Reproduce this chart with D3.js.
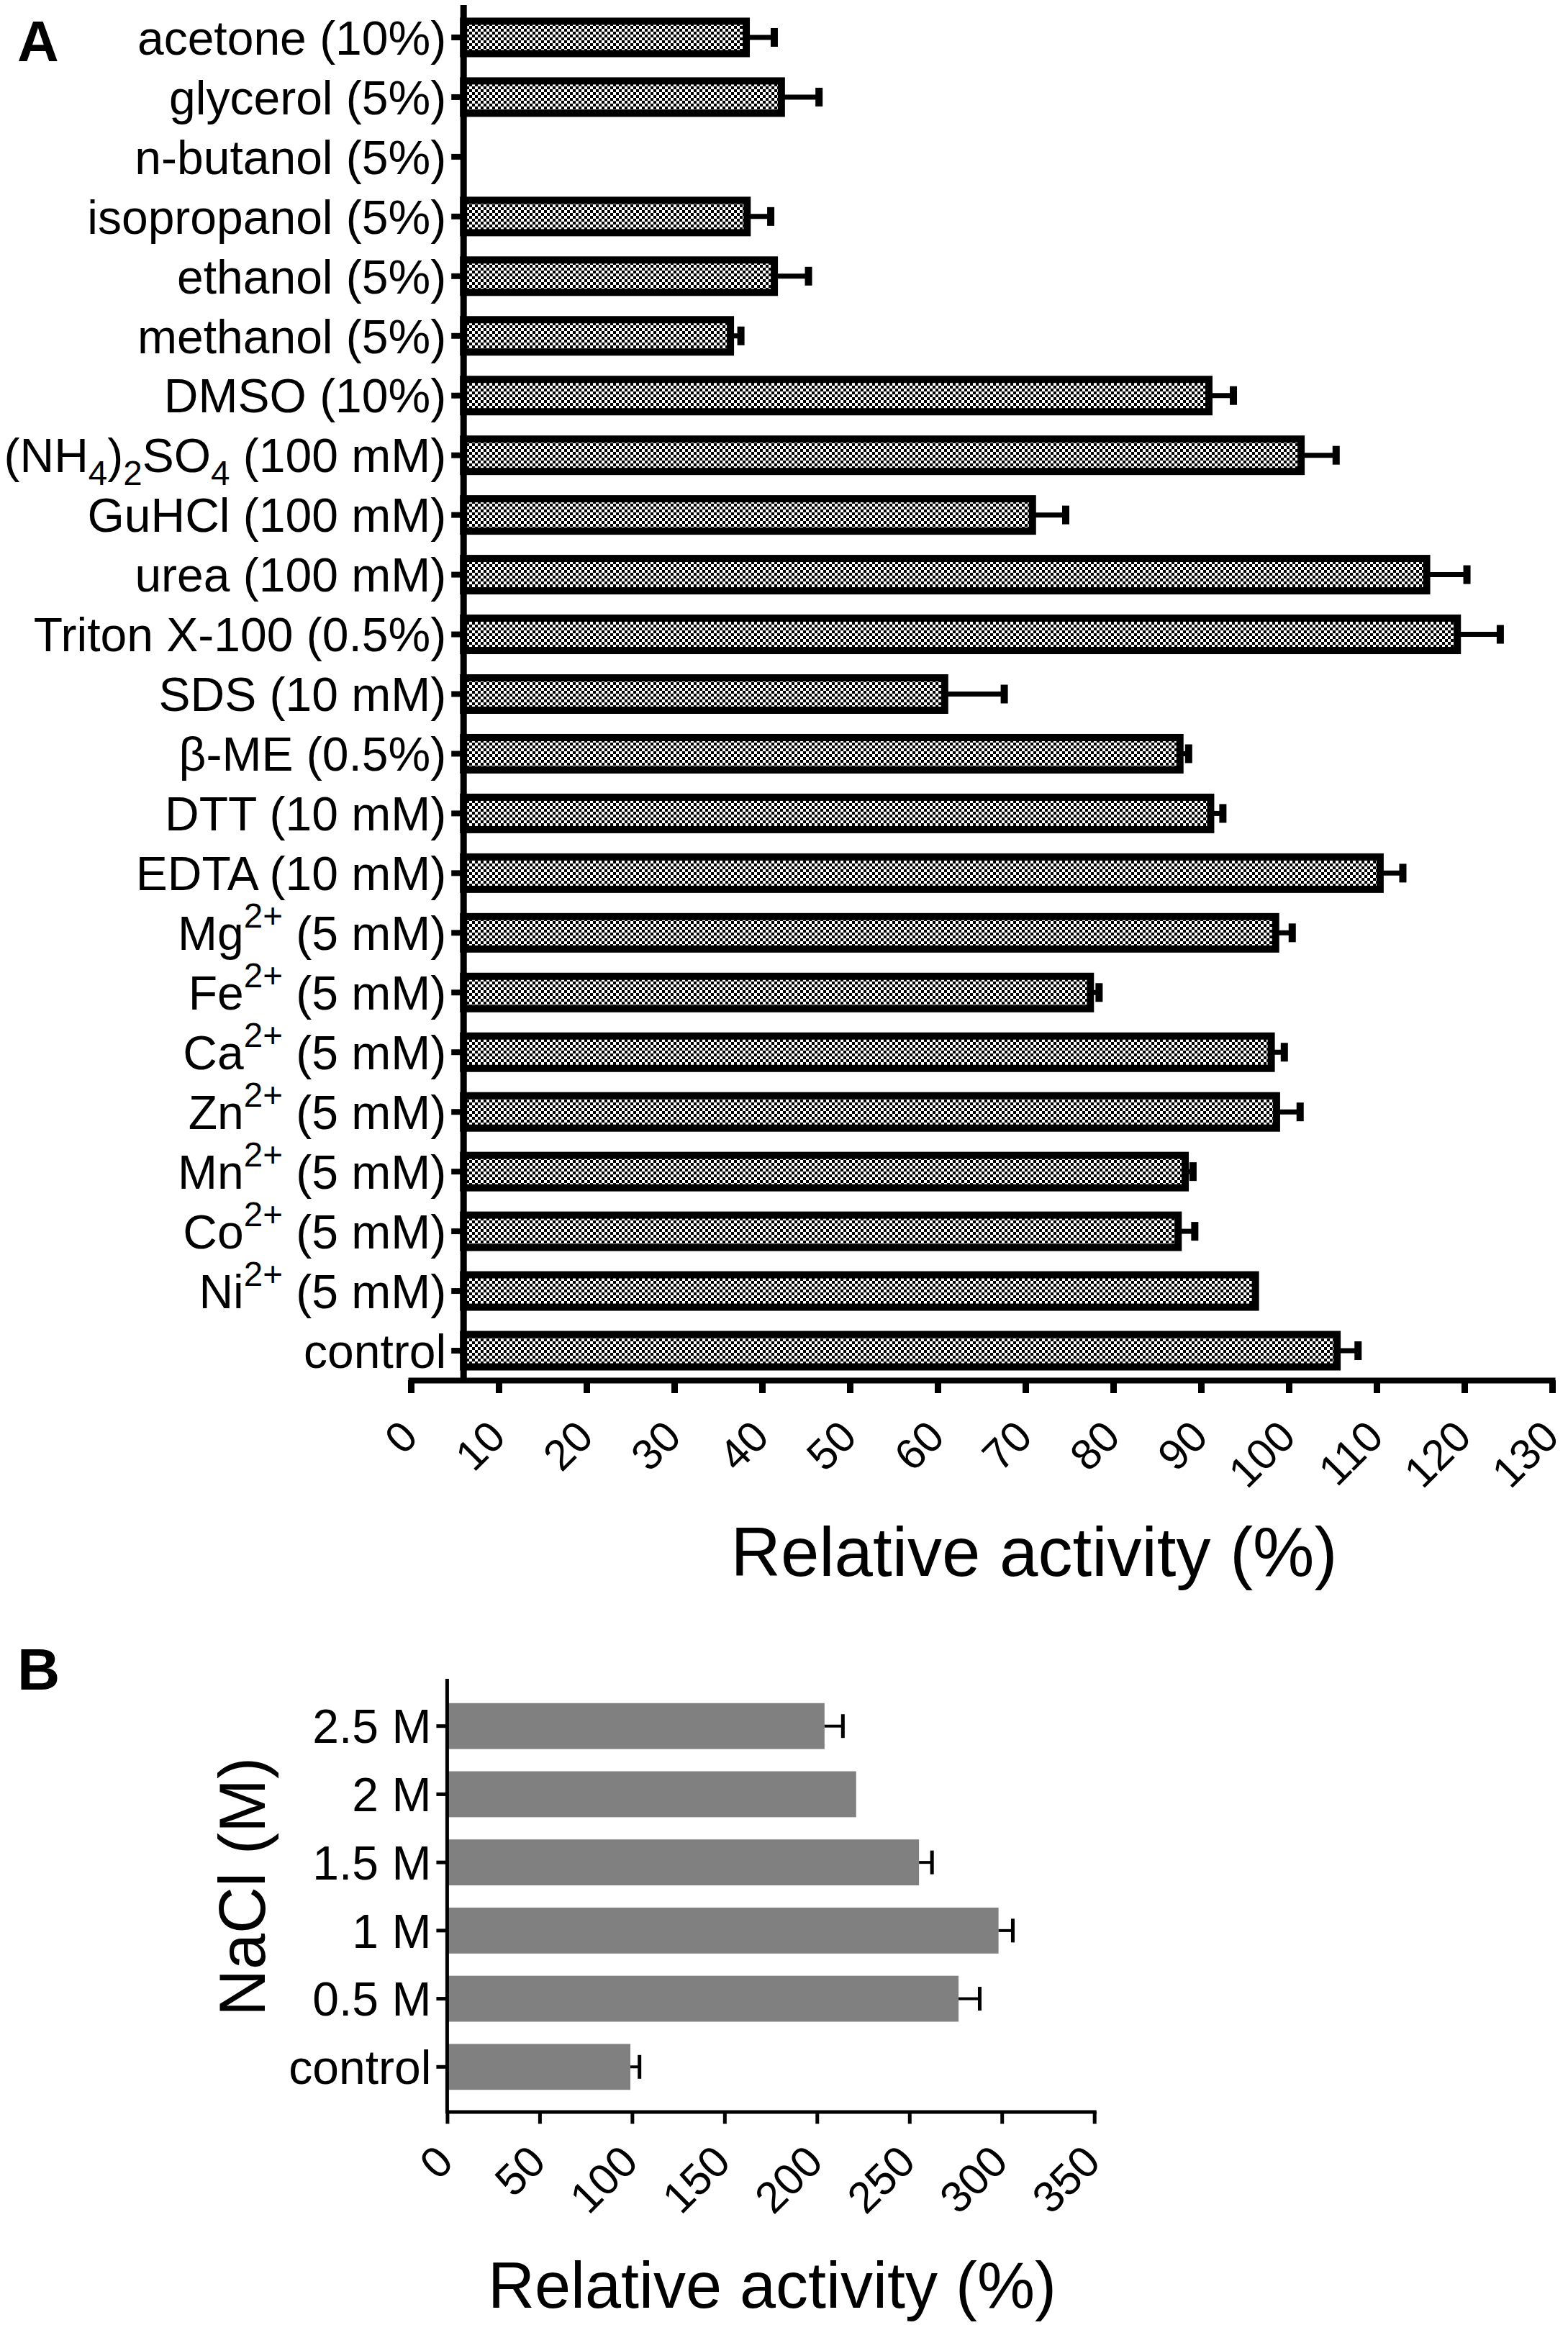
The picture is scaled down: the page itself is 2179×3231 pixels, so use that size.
<!DOCTYPE html>
<html><head><meta charset="utf-8">
<script src="https://cdn.jsdelivr.net/npm/d3@7"></script>
<style>
body{margin:0;background:#fff}
svg{display:block}
text{font-family:"Liberation Sans",Arial,Helvetica,sans-serif;fill:#000;white-space:pre}
</style>
</head><body>
<svg id="c" width="2179" height="3231"></svg>
<script>
// ---------- DATA ----------
const catsA = ["acetone (10%)", "glycerol (5%)", "n-butanol (5%)", "isopropanol (5%)", "ethanol (5%)",
  "methanol (5%)", "DMSO (10%)", "(NH_{4})_{2}SO_{4} (100 mM)", "GuHCl (100 mM)", "urea (100 mM)",
  "Triton X-100 (0.5%)", "SDS (10 mM)", "β-ME (0.5%)", "DTT (10 mM)", "EDTA (10 mM)",
  "Mg^{2+} (5 mM)", "Fe^{2+} (5 mM)", "Ca^{2+} (5 mM)", "Zn^{2+} (5 mM)", "Mn^{2+} (5 mM)",
  "Co^{2+} (5 mM)", "Ni^{2+} (5 mM)", "control"];
const valuesA = [38.2, 42.2, null, 38.3, 41.4, 36.4, 90.9, 101.4, 70.8, 115.7, 119.2, 60.8, 87.6,
  91.1, 110.4, 98.5, 77.4, 98.0, 98.6, 88.2, 87.4, 96.2, 105.5];
const errorsA = [3.6, 4.7, null, 3.1, 4.3, 1.6, 3.2, 4.4, 4.2, 5.0, 5.3, 7.2, 1.4, 1.8, 3.0, 2.3,
  1.4, 1.9, 3.1, 1.3, 2.3, null, 2.8];
const baselineA = 6;               // bars start at the y-axis, which sits at 6 on the x scale
const ticksA = [0,10,20,30,40,50,60,70,80,90,100,110,120,130];

const catsB = ["2.5 M", "2 M", "1.5 M", "1 M", "0.5 M", "control"];
const valuesB = [204.1, 221.2, 255.2, 298.2, 276.6, 99.1];
const errorsB = [10.9, null, 8.0, 8.7, 12.4, 5.9];
const ticksB = [0,50,100,150,200,250,300,350];

const titleX = "Relative activity (%)";
const titleYB = "NaCl (M)";

// ---------- HELPERS ----------
const svg = d3.select("#c");
function richText(sel, str, fs) {
  const parts = str.split(/(\^\{[^}]*\}|_\{[^}]*\})/).filter(s => s.length);
  let shift = 0;
  parts.forEach(p => {
    let t = p, target = 0, size = fs;
    if (p.startsWith("^{")) { t = p.slice(2, -1); target = -0.47 * fs; size = 0.72 * fs; }
    else if (p.startsWith("_{")) { t = p.slice(2, -1); target = 0.27 * fs; size = 0.72 * fs; }
    sel.append("tspan").attr("dy", target - shift).attr("font-size", size).text(t);
    shift = target;
  });
}

// checker pattern
const defs = svg.append("defs");
const pat = defs.append("pattern").attr("id", "checker").attr("patternUnits", "userSpaceOnUse")
  .attr("width", 8).attr("height", 8);
pat.append("rect").attr("width", 8).attr("height", 8).attr("fill", "#fff");
pat.append("rect").attr("width", 4).attr("height", 4).attr("fill", "#000");
pat.append("rect").attr("x", 4).attr("y", 4).attr("width", 4).attr("height", 4).attr("fill", "#000");

// ---------- PANEL A ----------
const xA = d3.scaleLinear().domain([0, 130]).range([571, 2157]);
const yA = d3.scaleBand().domain(catsA).range([10.5, 1918.5]).paddingInner(0.4575).paddingOuter(0.22875);
const axisYA = 1918;
const gA = svg.append("g");

const dataA = catsA.map((c, i) => ({c, v: valuesA[i], e: errorsA[i]}));

gA.selectAll("rect.bar").data(dataA.filter(d => d.v != null)).join("rect")
  .attr("class", "bar")
  .attr("x", xA(baselineA))
  .attr("y", d => yA(d.c))
  .attr("width", d => xA(d.v) - xA(baselineA))
  .attr("height", yA.bandwidth())
  .attr("fill", "url(#checker)")
  .attr("stroke", "#000").attr("stroke-width", 10);

const errA = dataA.filter(d => d.v != null && d.e != null);
gA.selectAll("line.err").data(errA).join("line")
  .attr("x1", d => xA(d.v)).attr("x2", d => xA(d.v + d.e) - 5)
  .attr("y1", d => yA(d.c) + yA.bandwidth() / 2).attr("y2", d => yA(d.c) + yA.bandwidth() / 2)
  .attr("stroke", "#000").attr("stroke-width", 7);
gA.selectAll("rect.cap").data(errA).join("rect")
  .attr("x", d => xA(d.v + d.e) - 10).attr("width", 10)
  .attr("y", d => yA(d.c) + yA.bandwidth() / 2 - 13).attr("height", 26)
  .attr("fill", "#000");

// y axis A
const yAxA = gA.append("g").attr("transform", `translate(${xA(baselineA)},0)`)
  .call(d3.axisLeft(yA).tickSize(17).tickSizeOuter(0));
yAxA.select(".domain").remove();
yAxA.selectAll(".tick line").attr("stroke", "#000").attr("stroke-width", 8);
yAxA.selectAll(".tick text").each(function(d) {
  const t = d3.select(this);
  t.text(null).attr("x", -24).attr("y", 0.36 * 66).attr("dy", null).attr("font-size", 66)
    .attr("text-anchor", "end").attr("fill", "#000");
  richText(t, d, 66);
});
gA.append("line").attr("x1", xA(baselineA)).attr("x2", xA(baselineA))
  .attr("y1", 7).attr("y2", axisYA + 4).attr("stroke", "#000").attr("stroke-width", 9);

// x axis A
const xAxA = gA.append("g").attr("transform", `translate(0,${axisYA})`)
  .call(d3.axisBottom(xA).tickValues(ticksA).tickSize(18).tickSizeOuter(0));
xAxA.select(".domain").attr("stroke", "#000").attr("stroke-width", 8).attr("stroke-linecap", "square");
xAxA.selectAll(".tick line").attr("stroke", "#000").attr("stroke-width", 9);
xAxA.selectAll(".tick text").attr("x", 0).attr("y", 0).attr("dy", 0)
  .attr("transform", "translate(12,82) rotate(-45)")
  .attr("text-anchor", "end").attr("font-size", 60).attr("fill", "#000");

gA.append("text").attr("x", 1437).attr("y", 2190).attr("text-anchor", "middle")
  .attr("font-size", 96).text(titleX);
svg.append("text").attr("x", 24).attr("y", 85).attr("font-size", 80).attr("font-weight", "bold").text("A");

// ---------- PANEL B ----------
const xB = d3.scaleLinear().domain([0, 350]).range([621.4, 1520.7]);
const yB = d3.scaleBand().domain(catsB).range([2351.35, 2919.65]).paddingInner(0.326).paddingOuter(0.163);
const axisYB = 2934.4;
const gB = svg.append("g");
const dataB = catsB.map((c, i) => ({c, v: valuesB[i], e: errorsB[i]}));

gB.selectAll("rect.bar").data(dataB).join("rect")
  .attr("x", xB(0)).attr("y", d => yB(d.c))
  .attr("width", d => xB(d.v) - xB(0)).attr("height", yB.bandwidth())
  .attr("fill", "#808080");

const errB = dataB.filter(d => d.e != null);
gB.selectAll("line.err").data(errB).join("line")
  .attr("x1", d => xB(d.v)).attr("x2", d => xB(d.v + d.e) - 2.5)
  .attr("y1", d => yB(d.c) + yB.bandwidth() / 2).attr("y2", d => yB(d.c) + yB.bandwidth() / 2)
  .attr("stroke", "#000").attr("stroke-width", 4);
gB.selectAll("line.cap").data(errB).join("line")
  .attr("x1", d => xB(d.v + d.e) - 2.5).attr("x2", d => xB(d.v + d.e) - 2.5)
  .attr("y1", d => yB(d.c) + yB.bandwidth() / 2 - 16.5).attr("y2", d => yB(d.c) + yB.bandwidth() / 2 + 16.5)
  .attr("stroke", "#000").attr("stroke-width", 5);

const yAxB = gB.append("g").attr("transform", `translate(${xB(0)},0)`)
  .call(d3.axisLeft(yB).tickSize(15).tickSizeOuter(0));
yAxB.select(".domain").remove();
yAxB.selectAll(".tick line").attr("stroke", "#000").attr("stroke-width", 5);
yAxB.selectAll(".tick text").attr("x", -22).attr("y", 0.36 * 66).attr("dy", null).attr("font-size", 66)
  .attr("text-anchor", "end").attr("fill", "#000");
gB.append("line").attr("x1", xB(0)).attr("x2", xB(0)).attr("y1", 2333).attr("y2", axisYB + 2.5)
  .attr("stroke", "#000").attr("stroke-width", 5);

const xAxB = gB.append("g").attr("transform", `translate(0,${axisYB})`)
  .call(d3.axisBottom(xB).tickValues(ticksB).tickSize(17).tickSizeOuter(0));
xAxB.select(".domain").attr("stroke", "#000").attr("stroke-width", 5).attr("stroke-linecap", "square");
xAxB.selectAll(".tick line").attr("stroke", "#000").attr("stroke-width", 5);
xAxB.selectAll(".tick text").attr("x", 0).attr("y", 0).attr("dy", 0)
  .attr("transform", "translate(11,73) rotate(-45)")
  .attr("text-anchor", "end").attr("font-size", 61).attr("fill", "#000");

gB.append("text").attr("x", 1073).attr("y", 3207).attr("text-anchor", "middle")
  .attr("font-size", 90).text(titleX);
gB.append("text").attr("transform", "translate(368,2622) rotate(-90)").attr("text-anchor", "middle")
  .attr("font-size", 90).text(titleYB);
svg.append("text").attr("x", 24).attr("y", 2348).attr("font-size", 82).attr("font-weight", "bold").text("B");
</script>
</body></html>
